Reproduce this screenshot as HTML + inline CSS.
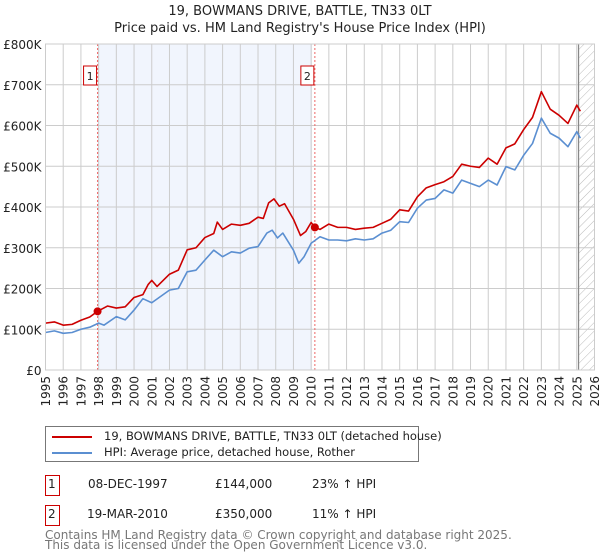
<!DOCTYPE html>
<html><head><meta charset="utf-8"><style>
body{margin:0;background:#fff;font-family:"DejaVu Sans","Liberation Sans",sans-serif;}
#wrap{position:relative;width:600px;height:560px;overflow:hidden;}
.t{position:absolute;font-size:12px;color:#222;white-space:nowrap;}
</style></head><body>
<div id="wrap">
<svg id="chart" width="600" height="420" style="position:absolute;left:0;top:0"></svg>
<div style="position:absolute;left:45px;top:426px;width:372px;border:1px solid #777;height:34px;background:#fff">
 <div style="position:absolute;left:4px;top:3px;height:14px;width:360px">
  <div style="position:absolute;left:2px;top:6px;width:40px;height:2px;background:#cc0000"></div>
  <span class="t" style="left:54px;top:-1px;font-size:11.5px">19, BOWMANS DRIVE, BATTLE, TN33 0LT (detached house)</span></div>
 <div style="position:absolute;left:4px;top:20px;height:14px;width:360px">
  <div style="position:absolute;left:2px;top:5px;width:40px;height:2px;background:#5b8fd1"></div>
  <span class="t" style="left:54px;top:-2px;font-size:11.5px">HPI: Average price, detached house, Rother</span></div>
</div>
<div>
 <div style="position:absolute;left:45px;top:475px;width:13px;height:19px;border:1px solid #c00"></div>
 <span class="t" style="left:48px;top:477px">1</span>
 <span class="t" style="left:88px;top:477px">08-DEC-1997</span>
 <span class="t" style="left:215px;top:477px">£144,000</span>
 <span class="t" style="left:312px;top:477px">23% ↑ HPI</span>
</div>
<div>
 <div style="position:absolute;left:45px;top:505px;width:13px;height:19px;border:1px solid #c00"></div>
 <span class="t" style="left:48px;top:507px">2</span>
 <span class="t" style="left:87px;top:507px">19-MAR-2010</span>
 <span class="t" style="left:215px;top:507px">£350,000</span>
 <span class="t" style="left:312px;top:507px">11% ↑ HPI</span>
</div>
<span class="t" style="left:45px;top:530px;color:#777;line-height:10px">Contains HM Land Registry data © Crown copyright and database right 2025.<br>This data is licensed under the Open Government Licence v3.0.</span>
</div>
<script>
const years=[1995,1996,1997,1998,1999,2000,2001,2002,2003,2004,2005,2006,2007,2008,2009,2010,2011,2012,2013,2014,2015,2016,2017,2018,2019,2020,2021,2022,2023,2024,2025,2026];
const yTicks=[0,100000,200000,300000,400000,500000,600000,700000,800000];
const yTickLabels=["£0","£100K","£200K","£300K","£400K","£500K","£600K","£700K","£800K"];
const hpiDates=[1995,1995.5,1996,1996.5,1997,1997.5,1998,1998.3,1999,1999.5,2000,2000.5,2001,2002,2002.5,2003,2003.5,2004,2004.5,2005,2005.5,2006,2006.5,2007,2007.5,2007.8,2008.1,2008.4,2009,2009.3,2009.6,2010,2010.5,2011,2011.5,2012,2012.5,2013,2013.5,2014,2014.5,2015,2015.5,2016,2016.5,2017,2017.5,2018,2018.5,2019,2019.5,2020,2020.5,2021,2021.5,2022,2022.5,2023,2023.5,2024,2024.5,2025,2025.2];
const hpiValues=[92,96,90,92,100,105,115,110,131,123,147,175,165,196,200,241,245,270,294,278,290,287,299,303,336,343,324,336,294,262,278,311,327,319,319,317,322,319,322,336,343,364,362,397,417,421,442,434,466,458,450,466,454,499,491,527,556,618,581,569,548,585,569];
const priceDates=[1995,1995.5,1996,1996.5,1997,1997.5,1997.94,1998.5,1999,1999.5,2000,2000.5,2000.8,2001,2001.3,2002,2002.5,2003,2003.5,2004,2004.5,2004.7,2005,2005.5,2006,2006.5,2007,2007.3,2007.6,2007.9,2008.2,2008.5,2009,2009.4,2009.7,2010,2010.21,2010.5,2011,2011.5,2012,2012.5,2013,2013.5,2014,2014.5,2015,2015.5,2016,2016.5,2017,2017.5,2018,2018.5,2019,2019.5,2020,2020.5,2021,2021.5,2022,2022.5,2023,2023.5,2024,2024.5,2025,2025.2];
const priceValues=[115,118,110,112,122,130,144,157,152,155,178,185,210,220,205,235,245,295,300,325,335,363,345,358,355,360,375,372,410,420,402,408,370,330,340,362,350,345,358,350,350,345,348,350,360,370,393,390,425,447,455,462,475,505,500,497,520,505,545,555,590,620,683,640,625,605,650,635];
const saleDates=[1997.94,2010.21];
const saleValues=[144,350];
const saleLabels=["1","2"];

const NS="http://www.w3.org/2000/svg";
const svg=document.getElementById('chart');
const X0=45.5,X1=594.5,Y0=370,Y1=44;
const x=d=>X0+(d-1995)/(2026-1995)*(X1-X0);
const y=v=>Y0-v/800000*(Y0-Y1);
function mk(tag,attrs,parent){const e=document.createElementNS(NS,tag);for(const k in attrs)e.setAttribute(k,attrs[k]);(parent||svg).appendChild(e);return e;}
let t=mk('text',{x:300,y:15,'text-anchor':'middle','font-size':13,fill:'#222'});t.textContent='19, BOWMANS DRIVE, BATTLE, TN33 0LT';


t=mk('text',{x:300,y:32,'text-anchor':'middle','font-size':13,fill:'#222'});t.textContent="Price paid vs. HM Land Registry's House Price Index (HPI)";


let r=mk('rect',{x:x(saleDates[0]),y:Y1,width:x(2010.05)-x(saleDates[0]),height:Y0-Y1,fill:'#eef3fc',opacity:0.8});


const defs=mk('defs',{});
const pat=mk('pattern',{id:'h',width:6,height:6,patternUnits:'userSpaceOnUse',patternTransform:'rotate(45)'},defs);
mk('line',{x1:0,y1:0,x2:0,y2:6,stroke:'#bbb','stroke-width':1},pat);
r=mk('rect',{x:x(2025.1),y:Y1,width:X1-x(2025.1),height:Y0-Y1,fill:'url(#h)'});


years.forEach(yr=>{
 const l=mk('line',{x1:x(yr),x2:x(yr),y1:Y1,y2:Y0,stroke:'#ccc','stroke-width':1});
 
 
 const tx=mk('text',{x:0,y:0,'text-anchor':'end','font-size':12,fill:'#222',transform:'translate('+(x(yr)+4.5)+','+(Y0+6)+') rotate(-90)'});
 tx.textContent=yr;
 
 
});
yTicks.forEach((v,i)=>{
 const l=mk('line',{x1:X0,x2:X1,y1:y(v),y2:y(v),stroke:'#ccc','stroke-width':1});
 
 
 const tx=mk('text',{x:X0-4,y:y(v)+5,'text-anchor':'end','font-size':12,fill:'#222'});
 tx.textContent=yTickLabels[i];
 
 
});
let b=mk('line',{x1:x(2025.1),x2:x(2025.1),y1:Y1,y2:Y0,stroke:'#888','stroke-width':1.2});


saleDates.forEach((d,i)=>{
 const l=mk('line',{x1:x(d),x2:x(d),y1:Y1,y2:Y0,stroke:'#e66','stroke-width':1,'stroke-dasharray':'2,2'});
 
 
 const bx=mk('rect',{x:x(d)-14,y:66,width:13,height:19,fill:'#fff',stroke:'#c00'});
 
 
 const tx=mk('text',{x:x(d)-7.5,y:80,'text-anchor':'middle','font-size':11,fill:'#222'});
 tx.textContent=saleLabels[i];
 
 
});
function line(ds,vs,col,name){
 const p=mk('polyline',{points:ds.map((d,i)=>x(d)+','+y(vs[i]*1000)).join(' '),fill:'none',stroke:col,'stroke-width':1.6,'stroke-linejoin':'round'});
 
 
}
line(hpiDates,hpiValues,'#5b8fd1','hpi-line');
line(priceDates,priceValues,'#cc0000','price-line');
saleDates.forEach((d,i)=>{
 const c=mk('circle',{cx:x(d),cy:y(saleValues[i]*1000),r:4,fill:'#cc0000'});
 
 
});
let ax=mk('rect',{x:X0,y:Y1,width:X1-X0,height:Y0-Y1,fill:'none',stroke:'#ccc'});


</script>
</body></html>
